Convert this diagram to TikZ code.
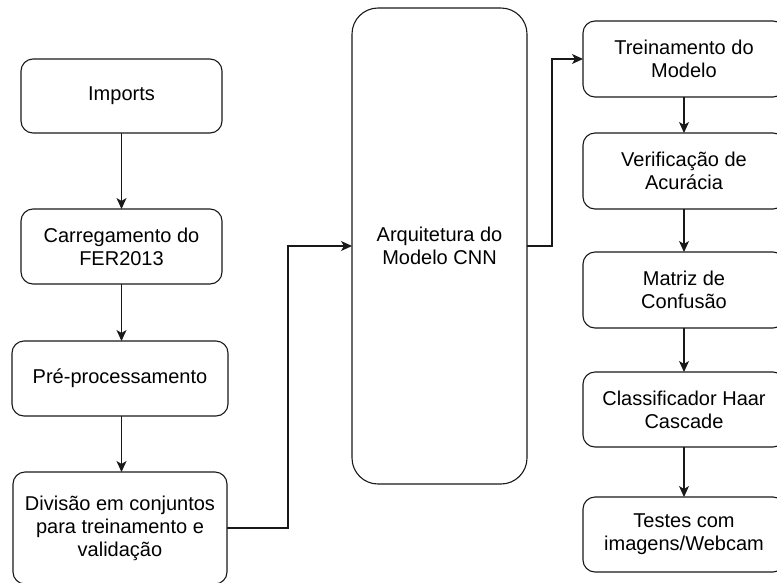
\documentclass[tikz,border=0pt]{standalone}
\usepackage{fontspec}
\setmainfont{Liberation Sans}
\usetikzlibrary{arrows.meta,calc}

\tikzset{
  stage/.style={draw=black!90, line width=1.1pt, rounded corners=12pt, fill=white,
    align=center, inner sep=0pt, outer sep=0pt,
    font=\fontsize{20}{23}\selectfont},
  bigstage/.style={stage, rounded corners=26pt},
  flow/.style={draw=black!90, line width=1.1pt, -{Stealth[length=11pt,width=10pt,inset=3pt]}},
}

\begin{document}
\begin{tikzpicture}[x=1pt,y=-1pt]
  \useasboundingbox[fill=white] (0,0) rectangle (777,582);

  % left column: data preparation
  \node[stage, minimum width=201pt, minimum height=74pt] (imports) at (121.5,96) {Imports};
  \node[stage, minimum width=201pt, minimum height=75pt] (carga) at (121.5,246.5) {Carregamento do\\FER2013};
  \node[stage, minimum width=216pt, minimum height=75pt] (prep) at (120,378.5) {Pré-processamento};
  \node[stage, minimum width=214pt, minimum height=112pt] (divisao) at (120,528) {Divisão em conjuntos\\para treinamento e\\validação};

  % centre: network architecture
  \node[bigstage, minimum width=175pt, minimum height=476pt] (arq) at (439.5,246) {Arquitetura do\\Modelo CNN};

  % right column: training and evaluation
  \node[stage, minimum width=202pt, minimum height=76pt] (treino) at (684,59) {Treinamento do\\Modelo};
  \node[stage, minimum width=202pt, minimum height=76pt] (verif) at (684,171) {Verificação de\\Acurácia};
  \node[stage, minimum width=202pt, minimum height=76pt] (matriz) at (684,290) {Matriz de\\Confusão};
  \node[stage, minimum width=202pt, minimum height=75pt] (haar) at (684,409.5) {Classificador Haar\\Cascade};
  \node[stage, minimum width=202pt, minimum height=75pt] (testes) at (684,534.5) {Testes com\\imagens/Webcam};

  % connectors (left column arrows stay on one vertical line)
  \draw[flow] (imports.south) -- (imports.south |- carga.north);
  \draw[flow] (carga.south) -- (carga.south |- prep.north);
  \draw[flow] (carga.south |- prep.south) -- (carga.south |- divisao.north);
  \draw[flow] (divisao.east) -- ++(61,0) |- (arq.west);
  \draw[flow] (arq.east) -- ++(25,0) |- (treino.west);
  \draw[flow] (treino) -- (verif);
  \draw[flow] (verif) -- (matriz);
  \draw[flow] (matriz) -- (haar);
  \draw[flow] (haar) -- (testes);
\end{tikzpicture}
\end{document}
